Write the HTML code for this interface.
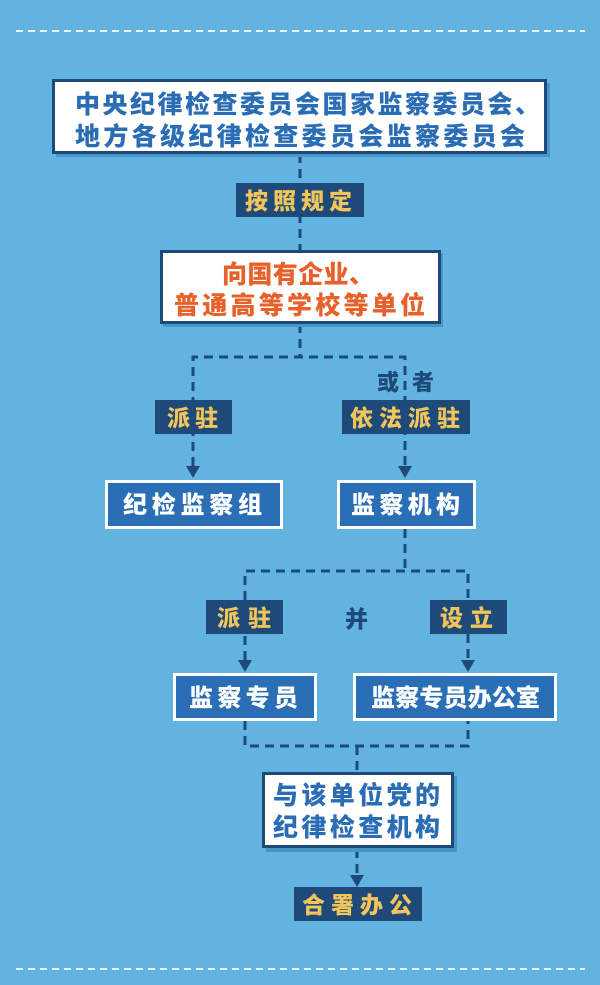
<!DOCTYPE html>
<html><head><meta charset="utf-8"><style>
html,body{margin:0;padding:0;background:#62b3e0;}
svg{display:block;}
text{font-family:"Liberation Sans","Noto Sans CJK SC",sans-serif;font-weight:900;}
</style></head><body>
<svg width="600" height="985" viewBox="0 0 600 985" xmlns="http://www.w3.org/2000/svg">
<rect width="600" height="985" fill="#62b3e0"/>
<line x1="16" y1="31" x2="585" y2="31" stroke="#e8f4fb" stroke-width="2" stroke-dasharray="7,5"/>
<line x1="16" y1="969" x2="585" y2="969" stroke="#e8f4fb" stroke-width="2" stroke-dasharray="7,5"/>
<g stroke="#1d4a78" stroke-width="3" fill="none" stroke-dasharray="9,6">
<line x1="300" y1="154" x2="300" y2="250"/>
<line x1="300" y1="324" x2="300" y2="357"/>
<polyline points="193,466 193,357 405,357 405,466"/>
<polyline points="405,529 405,571"/>
<polyline points="245,660 245,571 468,571 468,660"/>
<polyline points="245,721 245,746 468,746 468,721"/>
<line x1="357" y1="746" x2="357" y2="772"/>
<line x1="357" y1="849" x2="357" y2="876"/>
</g>
<g fill="#1d4a78">
<polygon points="186,466 200,466 193,478"/>
<polygon points="398,466 412,466 405,478"/>
<polygon points="238,660 252,660 245,672"/>
<polygon points="461,660 475,660 468,672"/>
<polygon points="350,875 364,875 357,887"/>
</g>
<rect x="56" y="83" width="494" height="74" fill="#4a95c8"/>
<rect x="53.5" y="80.5" width="492" height="72" fill="#fff" stroke="#1d4a78" stroke-width="3"/>
<text x="75" y="113" font-size="25" fill="#2a6db5" textLength="465" lengthAdjust="spacing">中央纪律检查委员会国家监察委员会、</text>
<text x="75" y="145" font-size="25" fill="#2a6db5" textLength="450" lengthAdjust="spacing">地方各级纪律检查委员会监察委员会</text>
<rect x="236" y="183" width="128" height="34" fill="#1d4a78"/>
<text x="245" y="209" font-size="23" fill="#f2c55a" textLength="107" lengthAdjust="spacing">按照规定</text>
<rect x="163" y="253" width="280" height="74" fill="#4a95c8"/>
<rect x="161.5" y="251.5" width="278" height="71" fill="#fff" stroke="#1d4a78" stroke-width="3"/>
<text x="222" y="283" font-size="25" fill="#e8602a" textLength="152" lengthAdjust="spacing">向国有企业、</text>
<text x="174" y="314" font-size="25" fill="#e8602a" textLength="251" lengthAdjust="spacing">普通高等学校等单位</text>
<text x="377" y="390" font-size="22" fill="#1d4a78">或</text>
<text x="412" y="390" font-size="22" fill="#1d4a78">者</text>
<rect x="155" y="400" width="77" height="34" fill="#1d4a78"/>
<text x="167" y="426" font-size="23" fill="#f2c55a" textLength="51" lengthAdjust="spacing">派驻</text>
<rect x="342" y="400" width="128" height="34" fill="#1d4a78"/>
<text x="350" y="426" font-size="23" fill="#f2c55a" textLength="110" lengthAdjust="spacing">依法派驻</text>
<rect x="106.5" y="481.5" width="175" height="46" fill="#2a6fb5" stroke="#fff" stroke-width="3"/>
<text x="123" y="513" font-size="24" fill="#fff" textLength="139" lengthAdjust="spacing">纪检监察组</text>
<rect x="338.5" y="481.5" width="136" height="46" fill="#2a6fb5" stroke="#fff" stroke-width="3"/>
<text x="351" y="513" font-size="24" fill="#fff" textLength="109" lengthAdjust="spacing">监察机构</text>
<rect x="206" y="600" width="77" height="34" fill="#1d4a78"/>
<text x="217" y="626" font-size="23" fill="#f2c55a" textLength="54" lengthAdjust="spacing">派驻</text>
<text x="345" y="627" font-size="23" fill="#1d4a78">并</text>
<rect x="430" y="600" width="77" height="34" fill="#1d4a78"/>
<text x="440" y="626" font-size="23" fill="#f2c55a" textLength="53" lengthAdjust="spacing">设立</text>
<rect x="174.5" y="674.5" width="141" height="45" fill="#2a6fb5" stroke="#fff" stroke-width="3"/>
<text x="189" y="706" font-size="24" fill="#fff" textLength="109" lengthAdjust="spacing">监察专员</text>
<rect x="354.5" y="674.5" width="201" height="45" fill="#2a6fb5" stroke="#fff" stroke-width="3"/>
<text x="371" y="706" font-size="24" fill="#fff" textLength="169" lengthAdjust="spacing">监察专员办公室</text>
<rect x="266" y="776" width="191" height="76" fill="#4a95c8"/>
<rect x="263.5" y="773.5" width="189" height="73" fill="#fff" stroke="#1d4a78" stroke-width="3"/>
<text x="273" y="804" font-size="25" fill="#2a6db5" textLength="167" lengthAdjust="spacing">与该单位党的</text>
<text x="273" y="836" font-size="25" fill="#2a6db5" textLength="167" lengthAdjust="spacing">纪律检查机构</text>
<rect x="294" y="887" width="128" height="34" fill="#1d4a78"/>
<text x="302" y="913" font-size="23" fill="#f2c55a" textLength="110" lengthAdjust="spacing">合署办公</text>
</svg>
</body></html>
